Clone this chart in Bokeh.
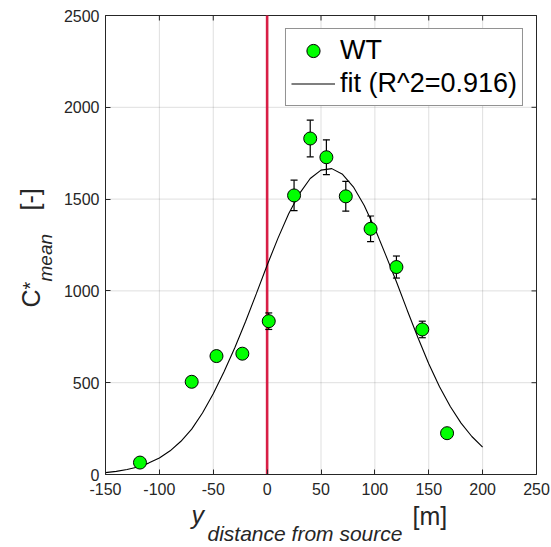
import math
from bokeh.plotting import figure
from bokeh.models import Range1d, FixedTicker, Label, Legend, LegendItem
from bokeh.embed import file_html
from bokeh.resources import INLINE

# ---------------- data ----------------
wt_x = [-118, -70, -47, -23, 1.5, 25, 40, 55, 73, 96, 120, 144, 167]
wt_y = [65, 505, 645, 658, 835, 1520, 1830, 1728, 1515, 1338, 1130, 790, 225]
wt_err = [15, 15, 15, 15, 45, 83, 100, 95, 81, 70, 60, 45, 20]

fit_x = [-150, -140, -130, -120, -110, -100, -90, -80, -70, -60,
         -50, -40, -30, -20, -10, 0, 10, 20, 30, 40,
         50, 60, 70, 80, 90, 100, 110, 120, 130, 140,
         150, 160, 170, 180, 190, 200]
fit_y = [10, 17, 27, 41, 62, 90, 129, 181, 247, 335,
         440, 560, 690, 833, 985, 1140, 1286, 1420, 1530, 1612,
         1658, 1666, 1635, 1567, 1466, 1340, 1196, 1050, 895, 745,
         603, 478, 370, 280, 207, 149]

source_x = [0]
x_ticks = [-150, -100, -50, 0, 50, 100, 150, 200, 250]
y_ticks = [0, 500, 1000, 1500, 2000, 2500]

# ---------------- layout helpers ----------------
W, H = 551, 547
FL, FR, FT, FB = 105, 536, 15, 474          # plot box in page pixels
XMIN, XMAX, YMIN, YMAX = -150, 250, 0, 2500


def dx(px):
    return XMIN + (px - FL) * (XMAX - XMIN) / (FR - FL)


def dy(py):
    return YMIN + (FB - py) * (YMAX - YMIN) / (FB - FT)


AX = "#262626"
FONT = "Liberation Sans"
TICK = 5  # px

# the frame covers the whole page so that the axis titles are never clipped;
# the axes are pinned at the edges of the data box
p = figure(width=W, height=H, output_backend="svg", toolbar_location=None,
           x_range=Range1d(dx(0), dx(W)), y_range=Range1d(dy(H), dy(0)),
           min_border=0, background_fill_color="white", border_fill_color="white")
p.outline_line_color = None
p.grid.visible = False

xa, ya = p.below[0], p.left[0]
xa.fixed_location = YMIN
ya.fixed_location = XMIN
xa.bounds = (XMIN, XMAX)
ya.bounds = (YMIN, YMAX)
xa.ticker = FixedTicker(ticks=x_ticks)
ya.ticker = FixedTicker(ticks=y_ticks)
xa.major_label_overrides = {t: str(t) for t in x_ticks}
ya.major_label_overrides = {t: str(t) for t in y_ticks}
for ax in (xa, ya):
    ax.major_tick_in = TICK
    ax.major_tick_out = 0
    ax.minor_tick_line_color = None
    ax.axis_line_color = AX
    ax.major_tick_line_color = AX
    ax.major_label_text_font = FONT
    ax.major_label_text_font_size = "16px"
    ax.major_label_text_color = AX
xa.major_label_standoff = 8
ya.major_label_standoff = 6

# grid lines inside the data box
gx = [t for t in x_ticks if XMIN < t < XMAX]
gy = [t for t in y_ticks if YMIN < t < YMAX]
p.segment(x0=gx, y0=[YMIN] * len(gx), x1=gx, y1=[YMAX] * len(gx),
          line_color=AX, line_alpha=0.15, line_width=1)
p.segment(x0=[XMIN] * len(gy), y0=gy, x1=[XMAX] * len(gy), y1=gy,
          line_color=AX, line_alpha=0.15, line_width=1)

# top and right edges of the box with inward ticks
tx = TICK * (XMAX - XMIN) / (FR - FL)
ty = TICK * (YMAX - YMIN) / (FB - FT)
p.segment(x0=[XMIN, XMAX], y0=[YMAX, YMIN], x1=[XMAX, XMAX], y1=[YMAX, YMAX],
          line_color=AX, line_width=1)
p.segment(x0=x_ticks, y0=[YMAX] * len(x_ticks), x1=x_ticks,
          y1=[YMAX - ty] * len(x_ticks), line_color=AX, line_width=1)
p.segment(x0=[XMAX] * len(y_ticks), y0=y_ticks, x1=[XMAX - tx] * len(y_ticks),
          y1=y_ticks, line_color=AX, line_width=1)

# red source line
p.segment(x0=source_x, y0=[YMIN], x1=source_x, y1=[YMAX],
          line_color="#d81e45", line_width=2.6)

# fit curve
ln = p.line(fit_x, fit_y, line_color="black", line_width=1.1)

# error bars
lo = [v - e for v, e in zip(wt_y, wt_err)]
hi = [v + e for v, e in zip(wt_y, wt_err)]
p.segment(x0=wt_x, y0=lo, x1=wt_x, y1=hi, line_color="black", line_width=1.2)
p.scatter(wt_x, lo, marker="dash", size=7, line_color="black", line_width=1.2)
p.scatter(wt_x, hi, marker="dash", size=7, line_color="black", line_width=1.2)

# data points
sc = p.scatter(wt_x, wt_y, marker="circle", size=13, fill_color="#00ff00",
               line_color="black", line_width=1)

legend = Legend(items=[LegendItem(label="WT", renderers=[sc]),
                       LegendItem(label="fit (R^2=0.916)", renderers=[ln])],
                location="top_right", margin=28, padding=5, spacing=0,
                glyph_width=44, glyph_height=33, label_height=33, label_standoff=5,
                label_text_font=FONT, label_text_font_size="27px",
                label_text_color="black", border_line_color=AX, border_line_width=1,
                background_fill_color="white", background_fill_alpha=1)
p.add_layout(legend)


# axis titles, built from pieces for the sub/superscripts
def lab(px, py, text, size, italic=False, angle=0.0):
    p.add_layout(Label(x=dx(px), y=dy(py), text=text, angle=angle,
                       text_font=FONT, text_font_size=size,
                       text_font_style="italic" if italic else "normal",
                       text_color=AX, text_align="left", text_baseline="alphabetic"))


r = math.pi / 2
lab(30, 307, "C", "25px", angle=r)
lab(29, 289, "*", "20px", angle=r)
lab(45, 281, "mean", "19px", italic=True, angle=r)
lab(29, 210, "[-]", "25px", angle=r)

lab(191, 514, "y", "25px", italic=True)
lab(207, 533, "distance from source", "21px", italic=True)
lab(412, 515, "[m]", "25px")

open("out.html", "w").write(file_html(p, INLINE))
